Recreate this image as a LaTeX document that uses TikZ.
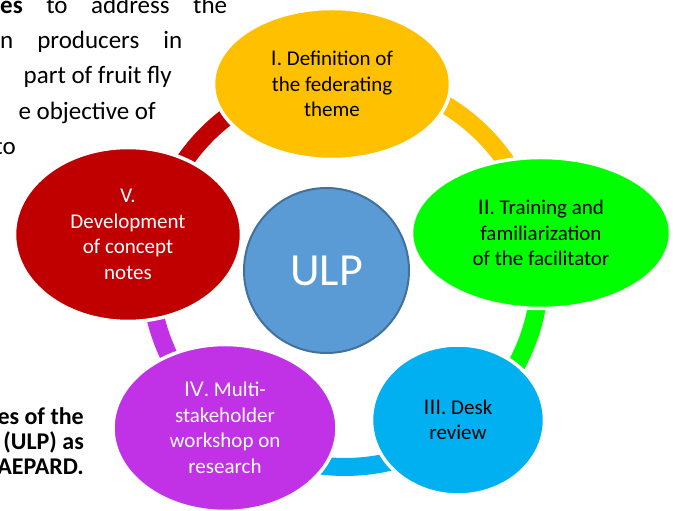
\documentclass[tikz,border=0pt]{standalone}
\usepackage{fontspec}
\setmainfont{Carlito}
\newfontfamily\numfont{Liberation Sans}
\usepackage{tikz}
\usetikzlibrary{shapes.geometric}

\definecolor{themeYellow}{HTML}{FFC000}
\definecolor{themeGreen}{HTML}{00FF00}
\definecolor{themeCyan}{HTML}{00B0F0}
\definecolor{themePurple}{HTML}{C131E5}
\definecolor{themeRed}{HTML}{C00000}
\definecolor{ulpFill}{HTML}{5B9BD5}
\definecolor{ulpBorder}{HTML}{41719C}

\begin{document}
\begin{tikzpicture}[x=1pt,y=1pt]
	%defines
	\tikzstyle{bodyText} = [inner sep=0pt, font=\fontsize{25}{35}\selectfont]
	\tikzstyle{captionText} = [inner sep=0pt, font=\fontsize{24}{25}\selectfont\bfseries]
	\tikzstyle{stage} = [ellipse, draw=white, line width=3.5pt, inner sep=0pt, align=center, font=\fontsize{21}{25.5}\selectfont]
	\tikzstyle{definition} = [stage, fill=themeYellow, minimum width=237pt, minimum height=151pt]
	\tikzstyle{training} = [stage, fill=themeGreen, minimum width=259pt, minimum height=151pt]
	\tikzstyle{deskReview} = [stage, fill=themeCyan, minimum width=173pt, minimum height=150pt]
	\tikzstyle{workshop} = [stage, fill=themePurple, text=white, minimum width=224pt, minimum height=167pt]
	\tikzstyle{conceptNotes} = [stage, fill=themeRed, text=white, minimum width=227pt, minimum height=174pt]
	\tikzstyle{ulp} = [circle, fill=ulpFill, draw=ulpBorder, line width=2pt, minimum size=165pt, inner sep=0pt, text=white, font=\fontsize{46}{50}\selectfont]
	\tikzstyle{ringArc} = [line width=18pt]
	%frame
	\useasboundingbox (0,0) rectangle (673,511);
	\clip (0,0) rectangle (673,511);
	%text round the chart
	\node (textA) [bodyText, anchor=base west] at (0,497) {\makebox[227pt][s]{\textbf{es} to address the}};
	\node (textB) [bodyText, anchor=base west] at (0,462) {\makebox[182pt][s]{n producers in}};
	\node (textC) [bodyText, anchor=base east] at (172,427) {part of fruit fly};
	\node (textD) [bodyText, anchor=base east] at (156,391) {e objective of};
	\node (textE) [bodyText, anchor=base east] at (16,356) {to};
	\node (captionA) [captionText, anchor=base east] at (84,86) {es of the};
	\node (captionB) [captionText, anchor=base east] at (84,61) {(ULP) as};
	\node (captionC) [captionText, anchor=base east] at (84,36) {AEPARD.};
	%chart
	\coordinate (ring) at (345,239);
	\draw [ringArc, themeYellow] (ring) ++(94:195) arc[start angle=94, end angle=11.3, radius=195];
	\draw [ringArc, themeGreen] (ring) ++(11.3:195) arc[start angle=11.3, end angle=-52.6, radius=195];
	\draw [ringArc, themeCyan] (ring) ++(-52.6:195) arc[start angle=-52.6, end angle=-127.6, radius=195];
	\draw [ringArc, themePurple] (ring) ++(-127.6:195) arc[start angle=-127.6, end angle=-189.8, radius=195];
	\draw [ringArc, themeRed] (ring) ++(170.2:195) arc[start angle=170.2, end angle=94, radius=195];
	\node (definition) [definition] at (332,427) {{\numfont I}. Definition of\\the federating\\theme};
	\node (training) [training] at (541,278) {{\numfont II}. Training and\\familiarization\\of the facilitator};
	\node (deskReview) [deskReview] at (458,91) {{\numfont III}. Desk\\review};
	\node (workshop) [workshop] at (225,83) {{\numfont IV}. Multi-\\stakeholder\\workshop on\\research};
	\node (conceptNotes) [conceptNotes] at (128,276.5) {V.\\Development\\of concept\\notes};
	\node (ulp) [ulp] at (326.5,240.5) {ULP};
\end{tikzpicture}
\end{document}
